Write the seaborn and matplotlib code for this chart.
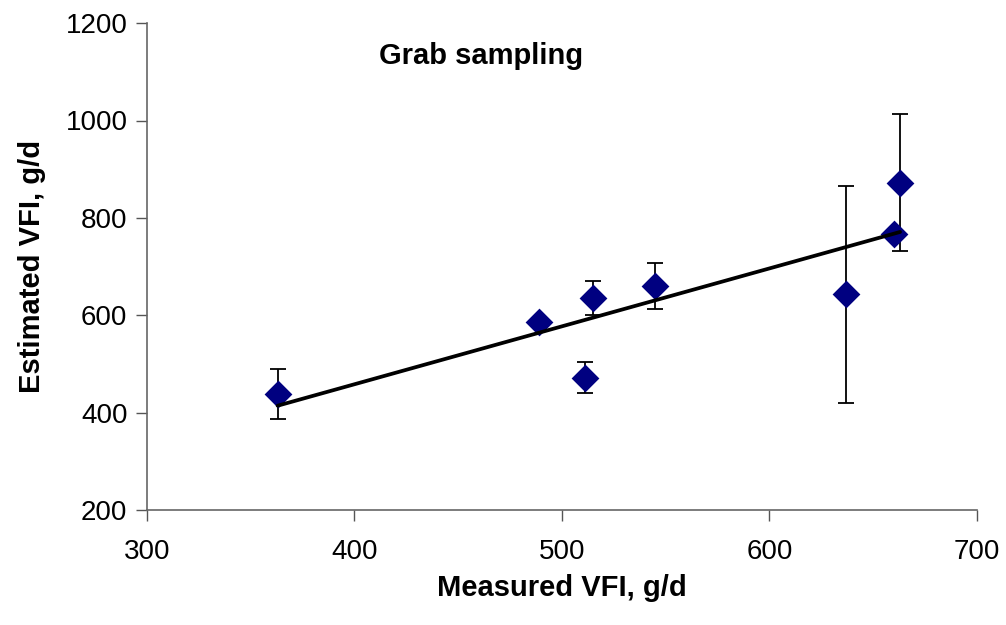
import matplotlib
matplotlib.use("Agg")
import matplotlib.pyplot as plt
import seaborn as sns
import pandas as pd
import numpy as np

measured = [363, 489, 515, 511, 545, 637, 660, 663]
estimated = [438, 587, 635, 472, 660, 643, 766, 872]
errors = [51, 8, 35, 31, 47, 223, 10, 141]

sns.set_theme(style="white")
plt.rcParams['font.family'] = ['Liberation Sans', 'DejaVu Sans']
plt.rcParams['text.color'] = 'black'
plt.rcParams['axes.labelcolor'] = 'black'
plt.rcParams['xtick.color'] = 'black'
plt.rcParams['ytick.color'] = 'black'

df = pd.DataFrame({"Measured": measured, "Estimated": estimated, "err": errors})

fig = plt.figure(figsize=(10.06, 6.25), dpi=100)
ax = fig.add_axes([0.146, 0.184, 0.825, 0.779])

ax.errorbar(df["Measured"], df["Estimated"], yerr=df["err"], fmt="none",
            ecolor="black", elinewidth=1.3, capsize=6, capthick=1.3, zorder=2)
sns.scatterplot(data=df, x="Measured", y="Estimated", marker="D", s=200,
                color="#000080", edgecolor="#000080", linewidth=0, ax=ax, zorder=3)
sns.regplot(data=df, x="Measured", y="Estimated", scatter=False, ci=None,
            truncate=True, color="black", line_kws={"linewidth": 2.7, "zorder": 4}, ax=ax)

ax.set_xlim(300, 700)
ax.set_ylim(200, 1200)
ax.set_xticks([300, 400, 500, 600, 700])
ax.set_yticks([200, 400, 600, 800, 1000, 1200])
ax.tick_params(axis="both", labelsize=20, length=8, width=1,
               direction="out", bottom=True, left=True, pad=6)
ax.tick_params(axis="both", color="#555555")
ax.tick_params(axis="x", pad=13)
for s in ["top", "right"]:
    ax.spines[s].set_visible(False)
for s in ["left", "bottom"]:
    ax.spines[s].set_color("#666666")
    ax.spines[s].set_linewidth(1.2)

ax.set_xlabel("Measured VFI, g/d", fontsize=21, fontweight="bold", labelpad=6)
ax.set_ylabel("Estimated VFI, g/d", fontsize=21, fontweight="bold", labelpad=14)
ax.text(461, 1133, "Grab sampling", fontsize=21, fontweight="bold",
        ha="center", va="center")

fig.savefig("out.png", dpi=100)
